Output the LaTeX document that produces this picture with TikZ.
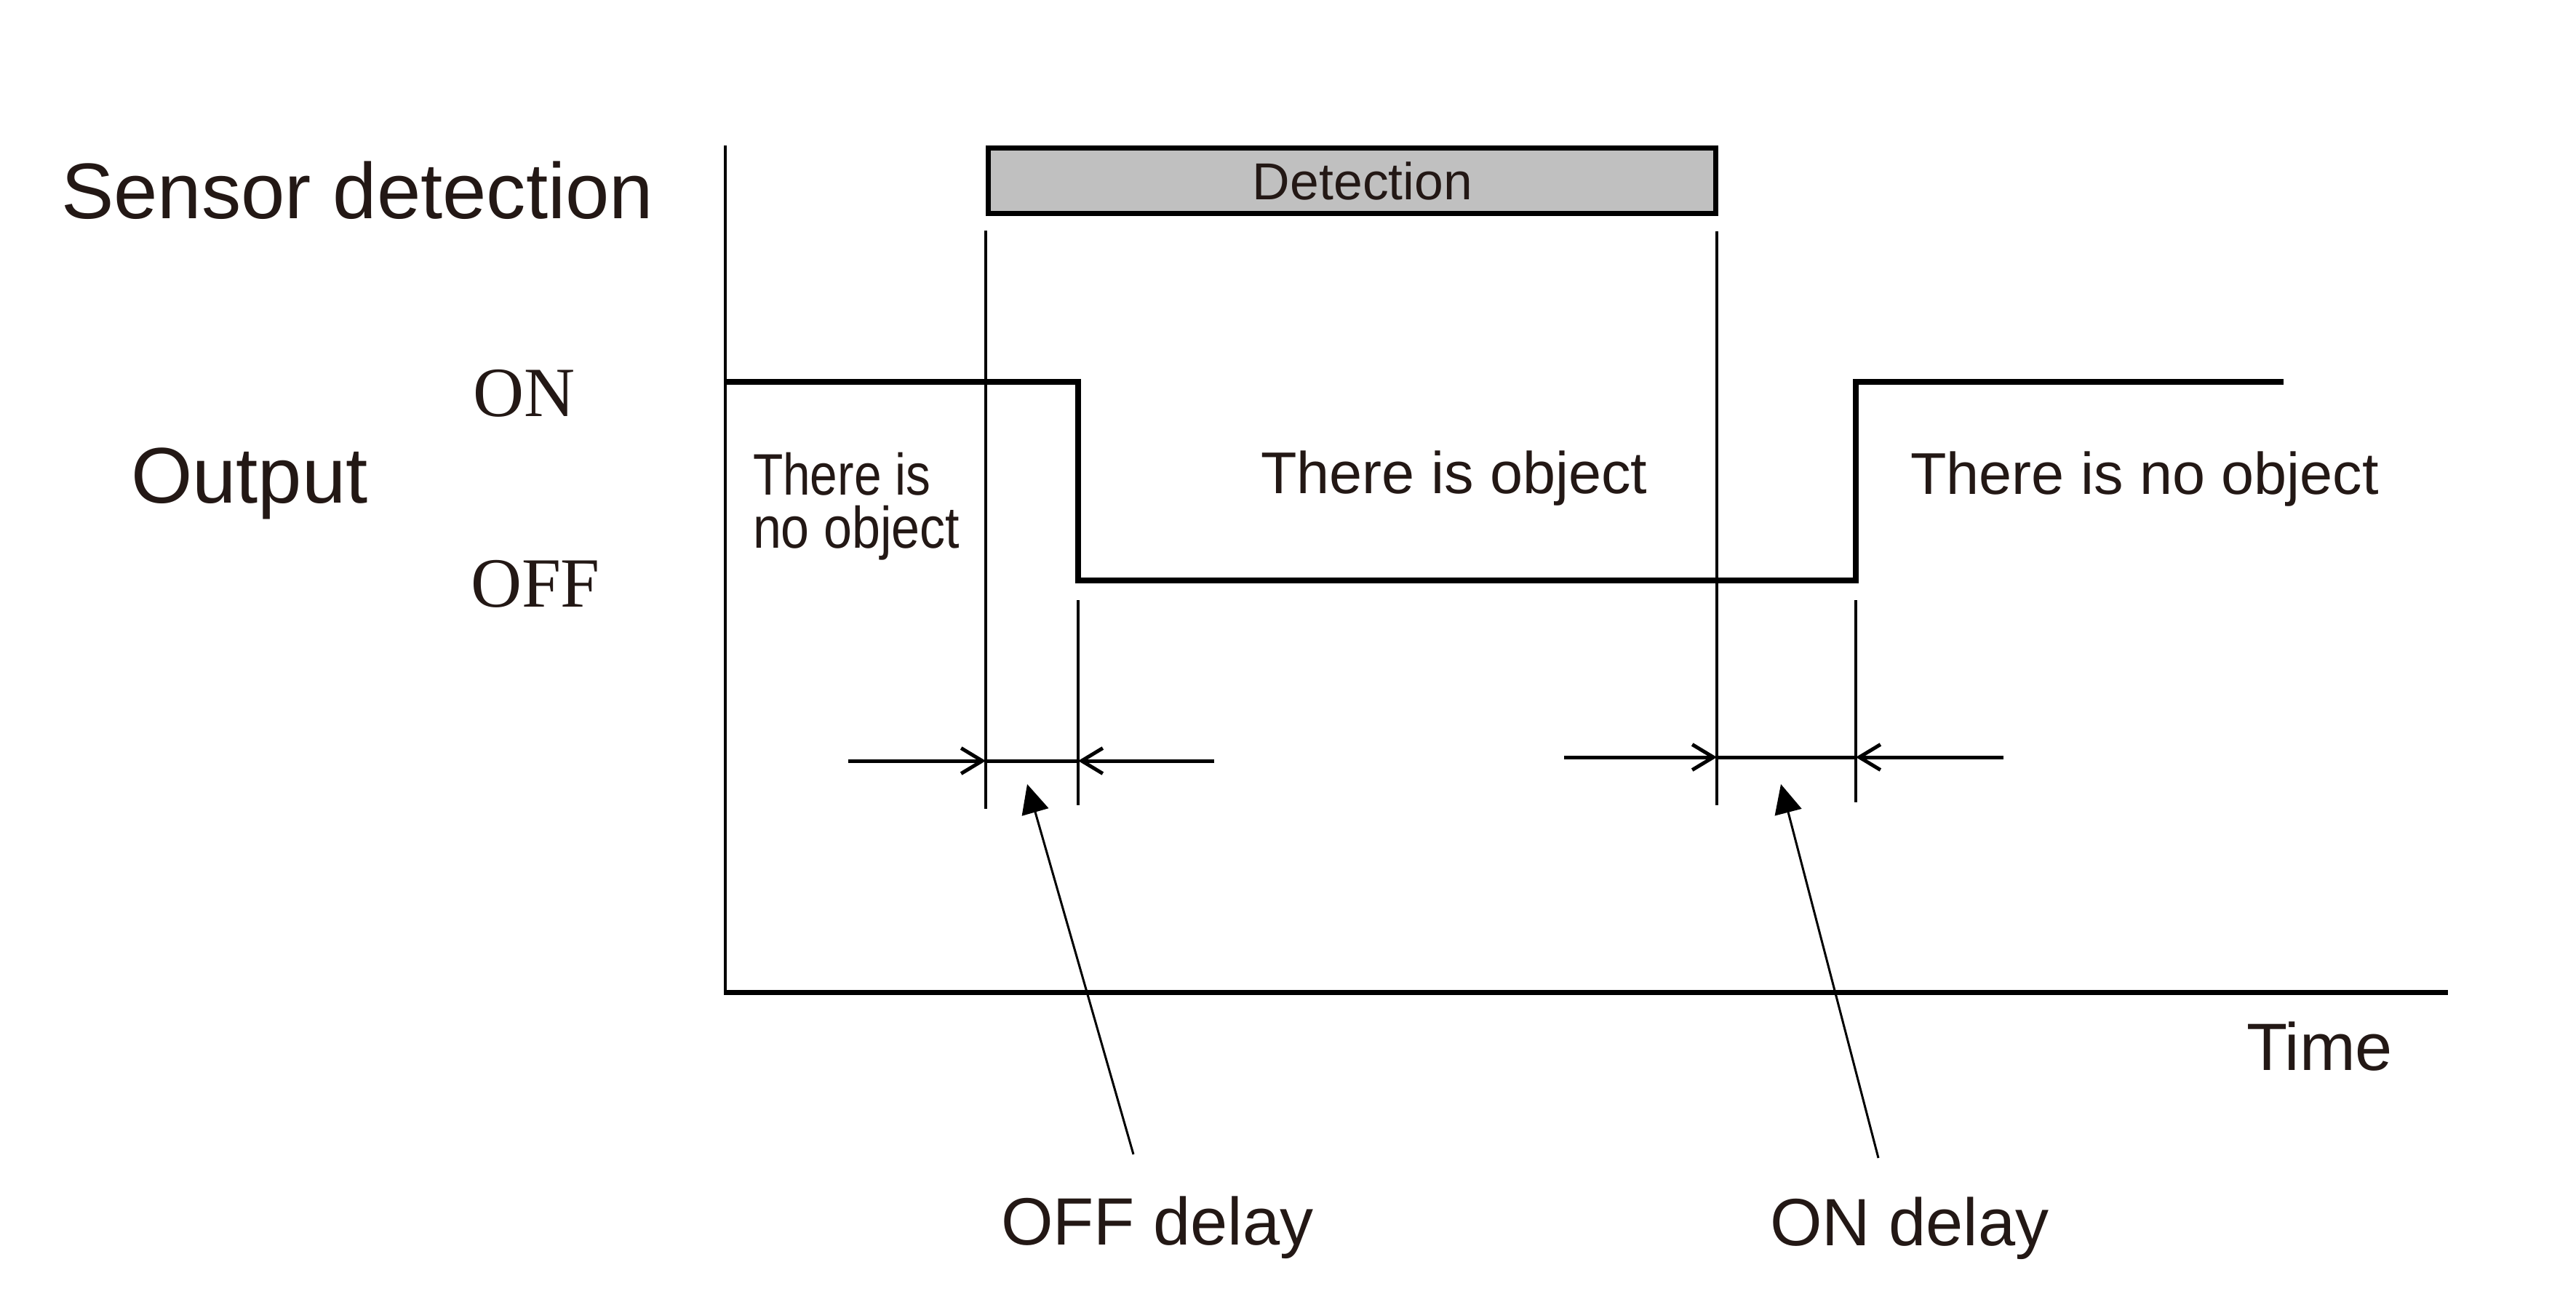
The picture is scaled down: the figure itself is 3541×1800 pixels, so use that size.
\documentclass[tikz,border=0pt]{standalone}
\usepackage{fontspec}
\newfontfamily\arialf{Liberation Sans}
\newfontfamily\timesf{Liberation Serif}
\usetikzlibrary{arrows.meta}
\definecolor{ink}{RGB}{35,24,21}
\definecolor{boxgray}{RGB}{192,192,192}
\begin{document}
\begin{tikzpicture}[x=0.2pt,y=-0.2pt,
  lbl/.style={inner sep=0pt, outer sep=0pt, anchor=base west, text=ink,
              font=\arialf\fontsize{#1}{#1}\selectfont},
  serif/.style={inner sep=0pt, outer sep=0pt, anchor=base west, text=ink,
              font=\timesf\fontsize{#1}{#1}\selectfont},
  wave/.style={line width=1.6pt, line join=miter},
  guide/.style={line width=0.8pt},
  dim/.style={line width=1pt, -{Straight Barb[length=5.8pt,width=7pt]}},
  dimline/.style={line width=1pt},
  ptr/.style={line width=0.6pt, -{Triangle[length=8pt,width=7.5pt]}},
  detbox/.style={draw=black, fill=boxgray, line width=1.4pt,
              minimum width=200pt, minimum height=18pt, inner sep=0pt}
]
\useasboundingbox[fill=white] (0,0) rectangle (3541,1800);

% axes
\coordinate (yTop) at (997,200);
\coordinate (org) at (997,1364);
\coordinate (xEnd) at (3365,1364);
\draw[line width=0.9pt] (yTop) -- (org);
\draw[line width=1.4pt] (995,1364) -- (xEnd);

% labels on the left
\node[lbl=21.7pt] (sensor) at (84,300) {Sensor detection};
\node[lbl=21.7pt] (output) at (180,691) {Output};
\node[serif=19.4pt] (on) at (650,572) {ON};
\node[serif=19.4pt] (off) at (647,834) {OFF};
\node[lbl=18.4pt] (time) at (3088,1471) {Time};

% detection bar
\node[detbox] (det) at (1858.5,248.5) {};
\node[inner sep=0pt, text=ink, font=\arialf\fontsize{14.3}{14.3}\selectfont]
  (detlbl) at (1873,248.5) {Detection};

% detection guide lines
\draw[guide] (1355,317) -- (1355,1112);
\draw[guide] (2360,318) -- (2360,1107);
% output edge guide lines
\draw[guide] (1482,825) -- (1482,1107);
\draw[guide] (2551,825) -- (2551,1103);

% output waveform
\draw[wave] (997,525) -- (1482,525) -- (1482,798) -- (2551,798) -- (2551,525) -- (3139,525);

% region texts
\node[lbl=16.1pt] (noobjA1) at (1035,680) {\scalebox{0.84}[1]{There is}};
\node[lbl=16.1pt] (noobjA2) at (1035,753) {\scalebox{0.87}[1]{no object}};
\node[lbl=16.2pt] (obj) at (1733,678) {There is object};
\node[lbl=16.2pt] (noobjB) at (2626,679) {There is no object};

% OFF delay dimension
\coordinate (oda) at (1166,1046);
\coordinate (odb) at (1355,1046);
\coordinate (odc) at (1482,1046);
\coordinate (odd) at (1669,1046);
\draw[dimline] (odb) -- (odc);
\draw[dim] (oda) -- (odb);
\draw[dim] (odd) -- (odc);

% ON delay dimension
\coordinate (nda) at (2150,1041);
\coordinate (ndb) at (2360,1041);
\coordinate (ndc) at (2551,1041);
\coordinate (ndd) at (2754,1041);
\draw[dimline] (ndb) -- (ndc);
\draw[dim] (nda) -- (ndb);
\draw[dim] (ndd) -- (ndc);

% delay labels and pointers
\node[lbl=18.4pt] (offdelay) at (1376,1711) {OFF delay};
\node[lbl=18.4pt] (ondelay) at (2433,1712) {ON delay};
\coordinate (offtip) at (1412,1078);
\coordinate (offstart) at (1558,1587);
\coordinate (ontip) at (2448,1078);
\coordinate (onstart) at (2582,1592);
\draw[ptr] (offstart) -- (offtip);
\draw[ptr] (onstart) -- (ontip);
\end{tikzpicture}
\end{document}
